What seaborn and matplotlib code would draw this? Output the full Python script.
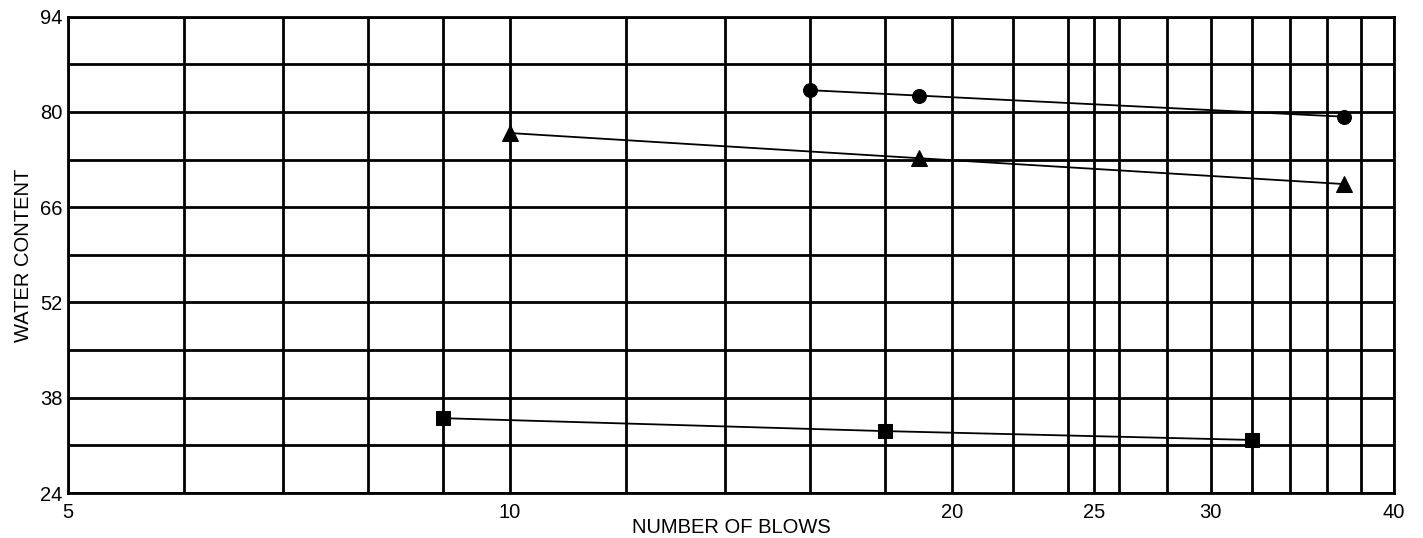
import numpy as np
import pandas as pd
import matplotlib
matplotlib.use("Agg")
import matplotlib.pyplot as plt
import seaborn as sns

# liquid limit test data
circle_blows = [16, 19, 37]
circle_water = [83.2, 82.4, 79.3]
triangle_blows = [10, 19, 37]
triangle_water = [76.9, 73.2, 69.4]
square_blows = [9, 18, 32]
square_water = [35.0, 33.1, 31.8]

x_grid = [5, 6, 7, 8, 9, 10, 12, 14, 16, 18, 20, 22, 24, 25, 26, 28, 30, 32, 34, 36, 38, 40]
x_labels = [5, 10, 20, 25, 30, 40]
y_grid = [24, 31, 38, 45, 52, 59, 66, 73, 80, 87, 94]
y_labels = [24, 38, 52, 66, 80, 94]

sns.set_style("white")
plt.rcParams['font.family'] = ['Liberation Sans', 'DejaVu Sans']
plt.rcParams['text.color'] = 'black'
plt.rcParams['axes.labelcolor'] = 'black'

fig = plt.figure(figsize=(14.23, 5.38), dpi=100)
ax = fig.add_axes([0.0478, 0.0836, 0.9318, 0.8854])

sets = [
    (circle_blows, circle_water, "o", 10),
    (triangle_blows, triangle_water, "^", 11),
    (square_blows, square_water, "s", 9.5),
]
for blows, water, mk, ms in sets:
    df = pd.DataFrame({"blows": blows, "water": water})
    sns.lineplot(data=df, x="blows", y="water", ax=ax, color="black",
                 linewidth=1.3, marker=mk, markersize=ms,
                 markeredgecolor="black", zorder=3, sort=False)

ax.set_xscale("log")
ax.set_xlim(5, 40)
ax.set_ylim(24, 94)

ax.set_xticks(x_grid)
ax.set_xticklabels([str(v) if v in x_labels else "" for v in x_grid])
ax.minorticks_off()
ax.set_yticks(y_grid)
ax.set_yticklabels([str(v) if v in y_labels else "" for v in y_grid])

ax.grid(True, color="black", linewidth=2, zorder=1)
ax.set_axisbelow(True)
for sp in ax.spines.values():
    sp.set_color("black")
    sp.set_linewidth(2)

ax.tick_params(axis="both", length=0, labelsize=14.5, colors="black")
ax.tick_params(axis="x", pad=7)
ax.tick_params(axis="y", pad=4)

ax.set_xlabel("NUMBER OF BLOWS", fontsize=14.5, labelpad=-3)
ax.set_ylabel("WATER CONTENT", fontsize=14.5, labelpad=5)

fig.savefig("out.png", dpi=100)
